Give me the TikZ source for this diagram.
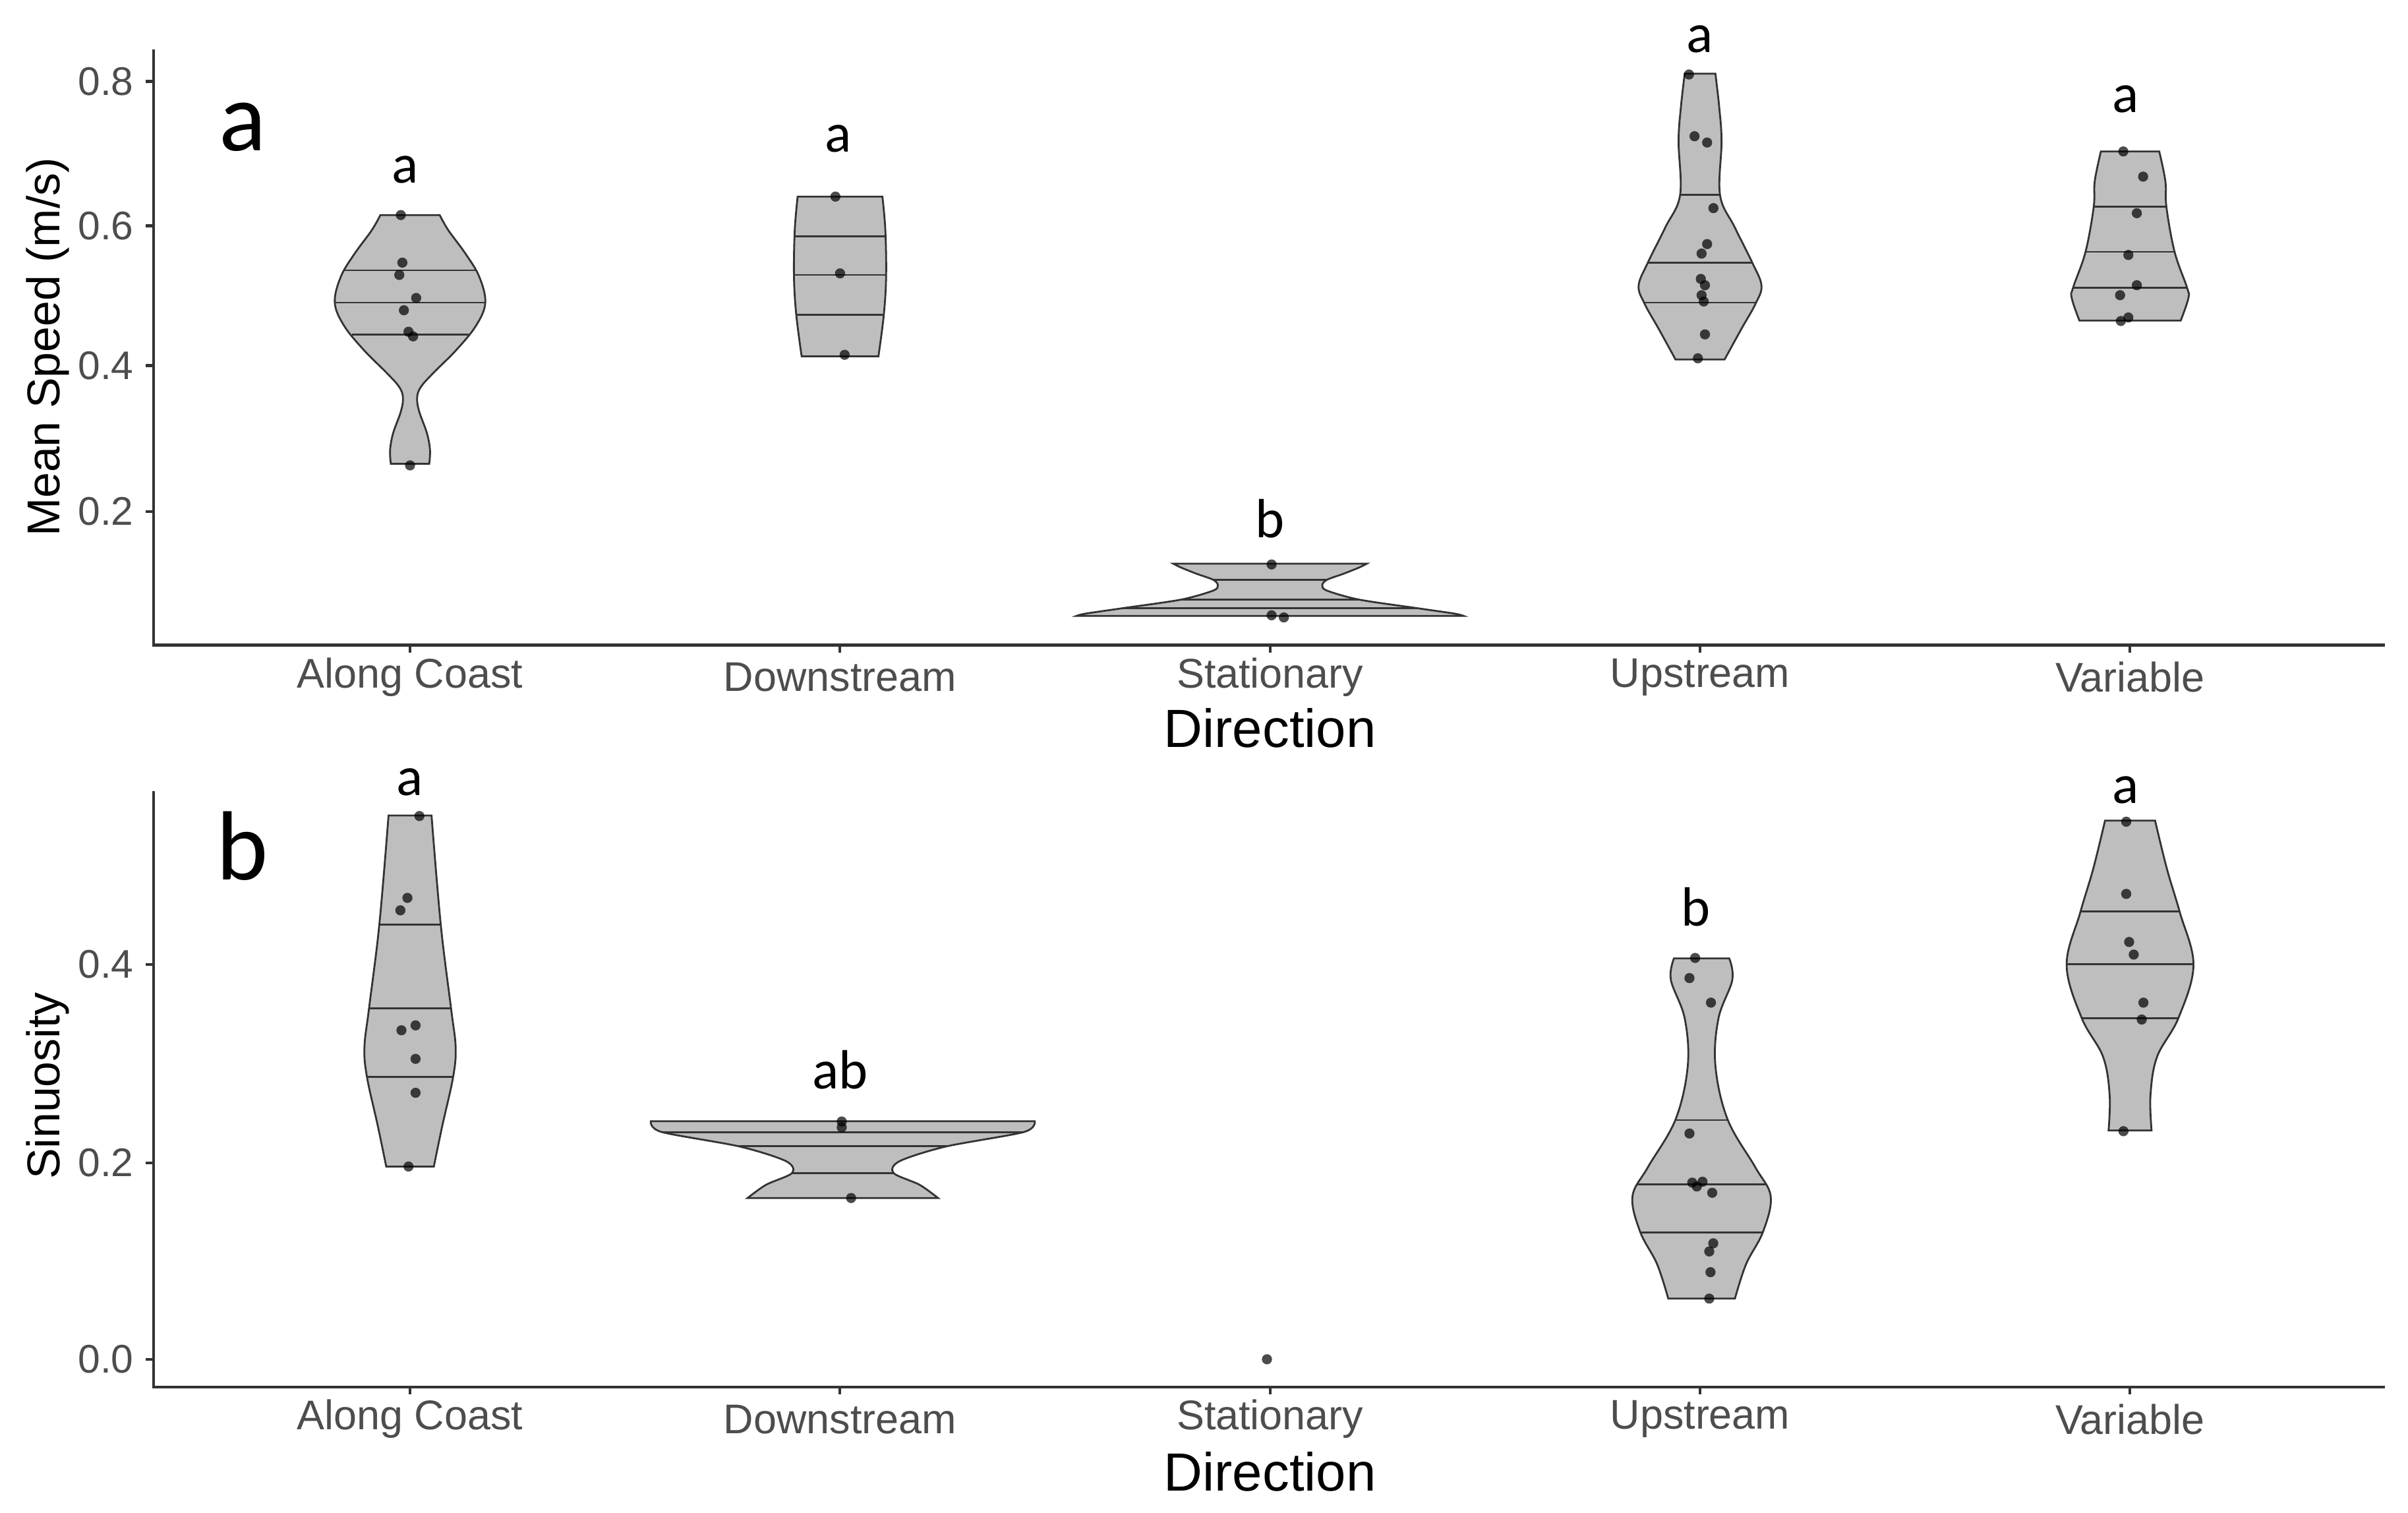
\documentclass[tikz,border=0pt]{standalone}
\usepackage{fontspec}
\setmainfont{Liberation Sans}
\newfontfamily\calfnt{Carlito}
\definecolor{axgray}{HTML}{333333}
\definecolor{txgray}{HTML}{4D4D4D}
\definecolor{vfill}{HTML}{BEBEBE}
\newcommand\mypts[1]{\foreach \px/\py in {#1} \fill[dot] (\px,\py) circle (3.3);}
\begin{document}
\begin{tikzpicture}[x=0.5pt,y=-0.5pt,
  vio/.style={fill=vfill,draw=axgray,line width=0.6pt},
  q/.style={draw=axgray,line width=0.6pt},
  dot/.style={fill=black,fill opacity=0.7,draw=none},
  ax/.style={draw=axgray,line width=0.9pt},
  tick/.style={txgray,font=\fontsize{13}{13}\selectfont},
  cat/.style={txgray,font=\fontsize{13.5}{13.5}\selectfont},
  ttl/.style={black,font=\fontsize{17.5}{17.5}\selectfont},
  ylab/.style={black,font=\fontsize{15}{15}\selectfont,rotate=90},
  grp/.style={anchor=base,font=\calfnt\fontsize{18}{18}\selectfont},
  pan/.style={anchor=base,font=\calfnt\fontsize{32}{32}\selectfont}]
\useasboundingbox (0,0) rectangle (1568,985);
% ---------------- panel a ----------------
\draw[ax] (100,32) -- (100,420) -- (1553,420);
\foreach \v/\yy in {0.8/53,0.6/147,0.4/238,0.2/333}{
  \draw[ax] (95,\yy) -- (100,\yy);
  \node[tick,anchor=east] (ta\v) at (94,\yy) {\v};}
\foreach \n/\c/\xx in {ca1/Along Coast/267,ca2/Downstream/547,ca3/Stationary/827,ca4/Upstream/1107,ca5/Variable/1387}{
  \draw[ax] (\xx,420) -- (\xx,425);
  \node[cat] (\n) at (\xx,441) {\c};}
\node[ttl] (dira) at (827,474) {Direction};
\node[ylab] (yla) at (31,226) {Mean Speed (m/s)};
\node[pan] (pa) at (158,98) {a};
% Along coast
\begin{scope}[xshift=133.5pt]
\path[vio] plot[smooth,tension=0.6] coordinates {(19.3,140)(25,150)(36,165)(45,180)(49,197)(43,212)(30,228)(15,243)(7,252)(4.6,259)(6,268)(11,282)(13,293)(12.5,302)}
 -- plot[smooth,tension=0.6] coordinates {(-12.5,302)(-13,293)(-11,282)(-6,268)(-4.6,259)(-7,252)(-15,243)(-30,228)(-43,212)(-49,197)(-45,180)(-36,165)(-25,150)(-19.3,140)} -- cycle;
\draw[q] (-43,176)--(43,176) (-49,197)--(49,197) (-38,218)--(38,218);
\end{scope}
\mypts{261/140,262/171,260/179,271/194,263/202,266/216,269/219,267/303}
\node[grp] (ga1) at (264,119) {a};
% Downstream
\begin{scope}[xshift=273.5pt]
\path[vio] plot[smooth,tension=0.6] coordinates {(27.6,128)(29.5,150)(30,180)(28.5,205)(25,232)}
 -- plot[smooth,tension=0.6] coordinates {(-25,232)(-28.5,205)(-30,180)(-29.5,150)(-27.6,128)} -- cycle;
\draw[q] (-29.5,154)--(29.5,154) (-30,179)--(30,179) (-28.5,205)--(28.5,205);
\end{scope}
\mypts{544/128,547/178,550/231}
\node[grp] (ga2) at (546,99) {a};
% Stationary
\begin{scope}[xshift=413.5pt]
\path[vio] plot[smooth,tension=0.5] coordinates {(63,367)(58,369.5)(48,373.5)(37,377.5)(34,381)(37,384.5)(58,390.4)(96,396)(120,399.5)(126,401)}
 -- plot[smooth,tension=0.5] coordinates {(-126,401)(-120,399.5)(-96,396)(-58,390.4)(-37,384.5)(-34,381)(-37,377.5)(-48,373.5)(-58,369.5)(-63,367)} -- cycle;
\draw[q] (-37,377.5)--(37,377.5) (-58,390.4)--(58,390.4) (-96,396)--(96,396);
\end{scope}
\mypts{828/367.5,828/400.6,836/402}
\node[grp] (ga3) at (827,350) {b};
% Upstream
\begin{scope}[xshift=553.5pt]
\path[vio] plot[smooth,tension=0.6] coordinates {(10,48)(12.5,70)(14,92)(13,127)(22.6,148)(34,171)(40,186)(36,198)(27,214)(16,234)}
 -- plot[smooth,tension=0.6] coordinates {(-16,234)(-27,214)(-36,198)(-40,186)(-34,171)(-22.6,148)(-13,127)(-14,92)(-12.5,70)(-10,48)} -- cycle;
\draw[q] (-13,127)--(13,127) (-34,171)--(34,171) (-36,197)--(36,197);
\end{scope}
\mypts{1099.8/48.5,1103.4/88.7,1111.6/92.8,1115.7/135.5,1111.6/158.9,1108/165.1,1107.5/181.6,1110.2/185.7,1108/192.2,1109.4/196.3,1110.2/217.7,1105.6/233.3}
\node[grp] (ga4) at (1107,34) {a};
% Variable
\begin{scope}[xshift=693.5pt]
\path[vio] plot[smooth,tension=0.6] coordinates {(19,98.6)(23,118)(23.7,135)(29,164)(37,187)(38,194)(33,208.7)}
 -- plot[smooth,tension=0.6] coordinates {(-33,208.7)(-38,194)(-37,187)(-29,164)(-23.7,135)(-23,118)(-19,98.6)} -- cycle;
\draw[q] (-23.7,134.7)--(23.7,134.7) (-29,164)--(29,164) (-37,187.3)--(37,187.3);
\end{scope}
\mypts{1382.6/98.6,1395.5/115,1391.4/138.8,1385.9/166,1391.4/185.7,1380.5/192.2,1385.9/206.7,1381/209}
\node[grp] (ga5) at (1384,73) {a};
% ---------------- panel b ----------------
\draw[ax] (100,515) -- (100,903) -- (1553,903);
\foreach \v/\yy in {0.4/628,0.2/757,0.0/885}{
  \draw[ax] (95,\yy) -- (100,\yy);
  \node[tick,anchor=east] (tb\v) at (94,\yy) {\v};}
\foreach \n/\c/\xx in {cb1/Along Coast/267,cb2/Downstream/547,cb3/Stationary/827,cb4/Upstream/1107,cb5/Variable/1387}{
  \draw[ax] (\xx,903) -- (\xx,908);
  \node[cat] (\n) at (\xx,924) {\c};}
\node[ttl] (dirb) at (827,958) {Direction};
\node[ylab] (ylb) at (31,707) {Sinuosity};
\node[pan] (pb) at (158,573) {b};
% Along coast
\begin{scope}[xshift=133.5pt]
\path[vio] plot[smooth,tension=0.6] coordinates {(14,531)(20,602)(26.7,656.5)(29.7,682)(28,701.5)(21,733)(15.5,759.5)}
 -- plot[smooth,tension=0.6] coordinates {(-15.5,759.5)(-21,733)(-28,701.5)(-29.7,682)(-26.7,656.5)(-20,602)(-14,531)} -- cycle;
\draw[q] (-20,602)--(20,602) (-26.7,656.5)--(26.7,656.5) (-28,701)--(28,701);
\end{scope}
\mypts{273.1/531.3,265.3/584.6,260.7/592.7,270.6/667.6,261.4/670.8,270.6/689.4,270.6/711.5,266/759.5}
\node[grp] (gb1) at (267,518) {a};
% Downstream
\begin{scope}[xshift=274.4pt]
\path[vio] plot[smooth,tension=0.5] coordinates {(125,730)(118,737)(67,746.5)(37,756)(33,763.7)(50,771.4)(62,780)}
 -- plot[smooth,tension=0.5] coordinates {(-62,780)(-50,771.4)(-33,763.7)(-37,756)(-67,746.5)(-118,737)(-125,730)} -- cycle;
\draw[q] (-118,737.3)--(118,737.3) (-68,746.1)--(68,746.1) (-33,763.7)--(33,763.7);
\end{scope}
\mypts{548.1/730.2,548.1/734,554.2/780}
\node[grp] (gb2) at (547,709) {ab};
% Stationary
\mypts{825/885}
% Upstream
\begin{scope}[xshift=554pt]
\path[vio] plot[smooth,tension=0.6] coordinates {(18,624)(20,638)(11,663)(9,694)(17,729)(35,760)(45,779)(40,802)(29,823)(21.7,845.5)}
 -- plot[smooth,tension=0.6] coordinates {(-21.7,845.5)(-29,823)(-40,802)(-45,779)(-35,760)(-17,729)(-9,694)(-11,663)(-20,638)(-18,624)} -- cycle;
\draw[q] (-17,729.3)--(17,729.3) (-42,771)--(42,771) (-40,802.3)--(40,802.3);
\end{scope}
\mypts{1103.8/623.7,1100.1/636.8,1114.1/652.8,1100.1/738,1101.9/770,1108.6/769.4,1104.9/772.5,1114.9/776.6,1115.6/809.5,1113/814.8,1113.8/828.3,1113/845.5}
\node[grp] (gb4) at (1104,603) {b};
% Variable
\begin{scope}[xshift=693.5pt]
\path[vio] plot[smooth,tension=0.6] coordinates {(16.3,534.3)(24,565.7)(32.4,594)(41.3,628.4)(31.5,662.8)(17.6,688)(13.3,713)(14,736)}
 -- plot[smooth,tension=0.6] coordinates {(-14,736)(-13.3,713)(-17.6,688)(-31.5,662.8)(-41.3,628.4)(-32.4,594)(-24,565.7)(-16.3,534.3)} -- cycle;
\draw[q] (-32.4,593.3)--(32.4,593.3) (-41.3,627.7)--(41.3,627.7) (-31.5,662.8)--(31.5,662.8);
\end{scope}
\mypts{1384.5/535,1384.5/582,1386.4/613.3,1389.4/621.5,1395.7/652.8,1394.6/663.8,1382.7/736.5}
\node[grp] (gb5) at (1384,523) {a};
\end{tikzpicture}
\end{document}
